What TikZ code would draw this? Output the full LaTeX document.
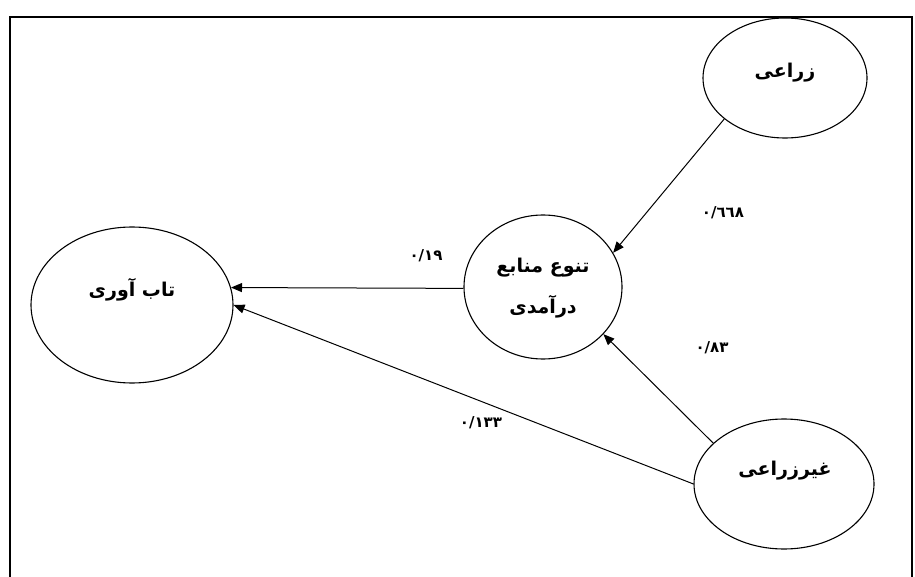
\documentclass[tikz,border=0pt]{standalone}
\usepackage{fontspec}
\newfontfamily\farsi[Script=Arabic]{DejaVu Sans}
\TeXXeTstate=1
\usetikzlibrary{shapes.geometric, arrows.meta}

\begin{document}
\begin{tikzpicture}[x=1pt, y=-1pt,
    latent/.style={ellipse, draw, line width=1.1pt, inner sep=0pt},
    vartext/.style={font=\farsi\bfseries\fontsize{19}{21}\selectfont},
    coef/.style={font=\farsi\bfseries\fontsize{15}{17}\selectfont},
    link/.style={-{Triangle[length=11pt, width=9pt]}, line width=1pt}]
    \useasboundingbox (0,0) rectangle (915,577);
    \draw[line width=1.3pt] (10,17) rectangle (912,600);

    % latent variables
    \node[latent, minimum width=202pt, minimum height=156pt] (taab) at (132,305) {};
    \node[latent, minimum width=158pt, minimum height=144pt] (tanavo) at (543,287) {};
    \node[latent, minimum width=164pt, minimum height=120pt] (zeraei) at (785,78) {};
    \node[latent, minimum width=180pt, minimum height=130pt] (gheyr) at (784,484) {};

    \node[vartext] (taabtxt) at (132,290) {\beginR تاب آوری\endR};
    \node[vartext] (tanavotxtA) at (543,268) {\beginR تنوع منابع\endR};
    \node[vartext] (tanavotxtB) at (543,307) {\beginR درآمدی\endR};
    \node[vartext] (zeraeitxt) at (785,73) {\beginR زراعی\endR};
    \node[vartext] (gheyrtxt) at (785,471) {\beginR غیرزراعی\endR};

    \path[link]
        (zeraei.214) edge (tanavo.26)
        (tanavo.181) edge (taab.10)
        (gheyr.150) edge (tanavo.322)
        (gheyr.west) edge (taab.east);

    % path coefficients
    \node[coef] (lbl668) at (723,213) {٠/٦٦٨};
    \node[coef] (lbl19) at (426,256) {٠/١٩};
    \node[coef] (lbl83) at (712,348) {٠/٨٣};
    \node[coef] (lbl133) at (481,423) {٠/١٣٣};
\end{tikzpicture}
\end{document}
